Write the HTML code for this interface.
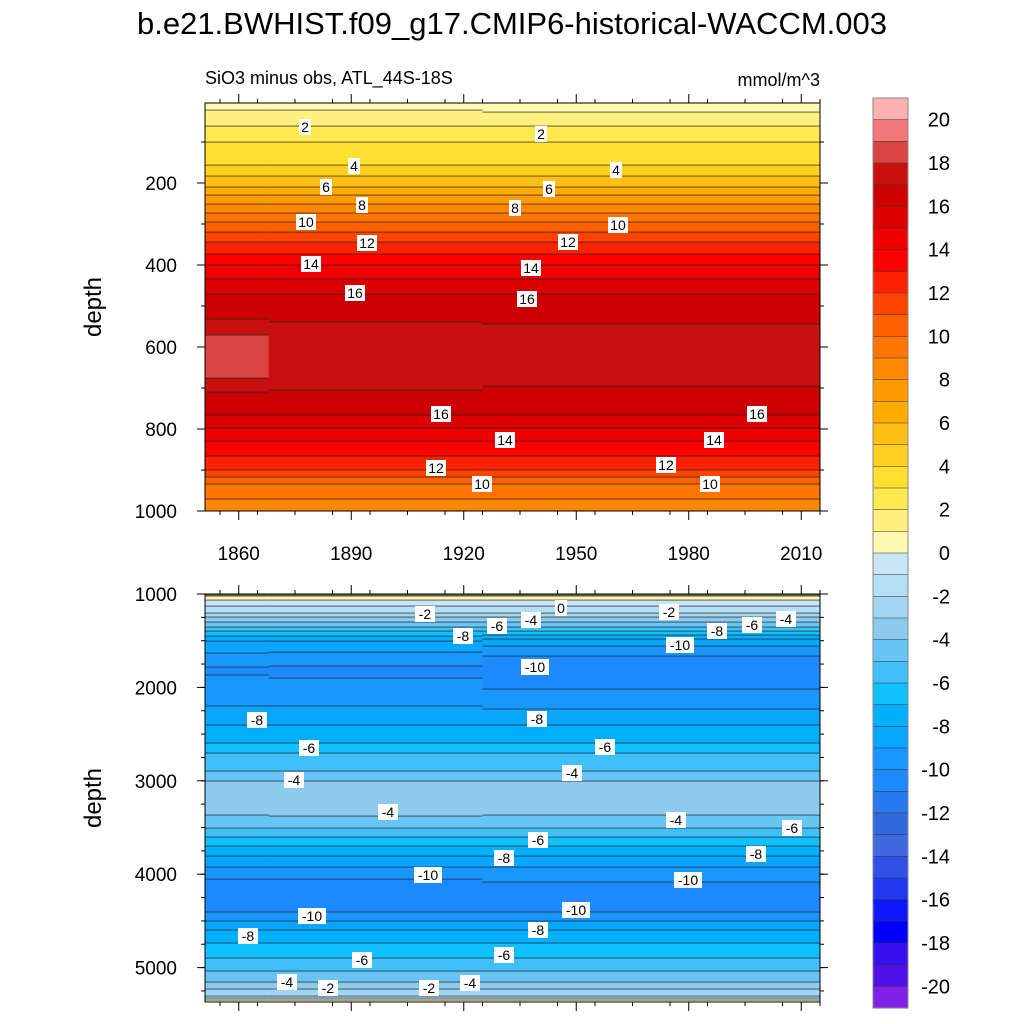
<!DOCTYPE html>
<html><head><meta charset="utf-8"><style>
body{margin:0;background:#fff;}
svg{display:block;font-family:"Liberation Sans",sans-serif;}
</style></head><body>
<svg id="chart" width="1024" height="1024">
<text x="512" y="34" font-size="31" text-anchor="middle">b.e21.BWHIST.f09_g17.CMIP6-historical-WACCM.003</text>
<text x="205" y="84" font-size="18">SiO3 minus obs, ATL_44S-18S</text>
<text x="820" y="86" font-size="18" text-anchor="end">mmol/m^3</text>
<text transform="translate(101,307) rotate(-90)" font-size="24" text-anchor="middle">depth</text>
<text transform="translate(101,798) rotate(-90)" font-size="24" text-anchor="middle">depth</text>
</svg>
<script>
// ---- data ----
const yearEdges = [1851, 1868, 1925, 2015];
const topDepths = [5, 30, 60, 100, 155, 210, 250, 295, 345, 400, 470, 545, 580, 620, 670, 700, 765, 830, 900, 935, 970, 1000];
const topProfileA = [0.5, 1.2, 2, 3, 4, 6, 8, 10, 12, 14, 16, 17.2, 18.3, 18.4, 18.2, 17.2, 16, 14, 12, 10, 9, 8.3];
const topProfileB = [0.6, 1.2, 2, 3, 4, 6, 8, 10, 12, 14, 16, 17.1, 17.5, 17.6, 17.4, 17.1, 16, 14, 12, 10, 9, 8.3];
const topProfileC = [0.4, 1.1, 2, 3, 4, 6, 8, 10, 12, 14, 16, 17.0, 17.4, 17.6, 17.4, 16.9, 16, 14, 12, 10, 9, 8.3];
const botDepths = [1000, 1030, 1100, 1200, 1300, 1400, 1500, 1700, 1800, 2000, 2200, 2400, 2600, 2700, 2900, 3000, 3150, 3300, 3400, 3500, 3600, 3800, 4000, 4100, 4200, 4300, 4400, 4600, 4800, 4900, 5100, 5200, 5300, 5365];
const botProfileA = [3, 0.5, -0.5, -2, -4, -6, -8, -9.5, -10.1, -9.8, -9, -8, -7, -6, -5, -4, -3.4, -3.6, -4.2, -5, -6, -8, -9.7, -10.3, -10.6, -10.2, -10, -8, -6.5, -6, -4.5, -3.5, -2, 0.5];
const botProfileB = [3, 0.5, -0.5, -2, -4, -6, -8, -9.6, -10.2, -9.8, -9, -8, -7, -6, -5, -4, -3.2, -3.4, -4.2, -5, -6, -8, -9.7, -10.3, -10.4, -10.2, -10, -8, -6.5, -6, -4.5, -3.5, -2, 0.5];
const botProfileC = [3, 0.5, -0.5, -2, -4, -6, -8.5, -10.3, -10.5, -10.1, -9.2, -8, -7, -6, -5, -4, -3.2, -3.6, -4.2, -5, -6, -8, -9.6, -10.1, -10.3, -10.1, -10, -8, -6.5, -6, -4.5, -3.5, -2, 0.5];
const xTickYears = [1860, 1890, 1920, 1950, 1980, 2010];
const topTickDepths = [200, 400, 600, 800, 1000];
const botTickDepths = [1000, 2000, 3000, 4000, 5000];
const cbLabels = [20, 18, 16, 14, 12, 10, 8, 6, 4, 2, 0, -2, -4, -6, -8, -10, -12, -14, -16, -18, -20];
const posColors = ['#fdb0b0','#f07878','#dc4444','#c81010','#cc0000','#dd0000','#ee0000','#ff0000','#ff2200','#ff4400','#ff6000','#ff7500','#ff8800','#ff9a00','#ffab00','#ffbf15','#ffd020','#ffe030','#ffe850','#fff080','#fff8b0'];
const negColors = ['#c8e6f5','#b4def4','#a2d6f0','#8ccaee','#68c4f4','#40c0f8','#10c0ff','#00b0ff','#08a6ff','#1898ff','#1e8aff','#2878f0','#3068e0','#4068e0','#3050e8','#2238f0','#1018ff','#0000ff','#3810f0','#5010e8','#8020e8'];
const topLabels = [[305,127,'2'],[541,134,'2'],[354,166,'4'],[616,170,'4'],[326,187,'6'],[549,189,'6'],[362,205,'8'],[515,208,'8'],[306,222,'10'],[618,225,'10'],[367,243,'12'],[568,242,'12'],[311,264,'14'],[531,268,'14'],[355,293,'16'],[527,299,'16'],[441,414,'16'],[757,414,'16'],[505,440,'14'],[714,440,'14'],[436,468,'12'],[666,465,'12'],[482,484,'10'],[710,484,'10']];
const botLabels = [[425,614,'-2'],[531,620,'-4'],[497,626,'-6'],[463,636,'-8'],[561,608,'0'],[669,612,'-2'],[717,631,'-8'],[752,625,'-6'],[786,619,'-4'],[680,645,'-10'],[535,667,'-10'],[257,720,'-8'],[537,719,'-8'],[309,748,'-6'],[605,747,'-6'],[294,780,'-4'],[572,773,'-4'],[388,812,'-4'],[676,820,'-4'],[792,828,'-6'],[538,840,'-6'],[504,858,'-8'],[756,854,'-8'],[428,875,'-10'],[688,880,'-10'],[312,916,'-10'],[576,910,'-10'],[538,930,'-8'],[248,936,'-8'],[362,960,'-6'],[504,955,'-6'],[287,982,'-4'],[328,988,'-2'],[429,988,'-2'],[470,983,'-4']];
// ---- geometry ----
const NS='http://www.w3.org/2000/svg';
const svg=document.getElementById('chart');
const X0=205,X1=820;
const xs=y=>X0+(y-1851)*(X1-X0)/(2015-1851);
const topY=d=>511-(1000-d)*0.41;
const botY=d=>594+(d-1000)*0.0934;
function mk(tag,attrs,parent){const e=document.createElementNS(NS,tag);for(const k in attrs)e.setAttribute(k,attrs[k]);(parent||svg).appendChild(e);return e;}
function colorFor(v){if(v>=0){let i=Math.floor(v);let idx=20-i;if(idx<0)idx=0;if(idx>20)idx=20;return posColors[idx];}let i=Math.floor(-v);if(i>20)i=20;return negColors[i];}
function interp(ds,vs,d){if(d<=ds[0])return vs[0];for(let i=1;i<ds.length;i++){if(d<=ds[i]){const t=(d-ds[i-1])/(ds[i]-ds[i-1]);return vs[i-1]+t*(vs[i]-vs[i-1]);}}return vs[vs.length-1];}
function drawPanel(name,ds,profiles,yfn,yTop,yBot){
  const g=mk('g',{});
  
  
  for(let b=0;b<profiles.length;b++){
    const xa=xs(yearEdges[b]),xb=xs(yearEdges[b+1]);
    let prevLev=null;
    for(let py=yTop;py<yBot;py++){
      let lo=ds[0],hi=ds[ds.length-1];
      for(let k=0;k<30;k++){const m=(lo+hi)/2;if(yfn(m)<py+0.5)lo=m;else hi=m;}
      const v=interp(ds,profiles[b],lo);
      const r=mk('rect',{x:xa,y:py,width:xb-xa+0.5,height:1.05,fill:colorFor(v)},g);
      
      
      const lev=Math.floor(v);
      if(prevLev!==null&&lev!==prevLev){
        const l=mk('rect',{x:xa,y:py-0.3,width:xb-xa+0.5,height:0.7,fill:'#222'},g);
        
        
      }
      prevLev=lev;
    }
  }
  const f=mk('rect',{x:X0,y:yTop,width:X1-X0,height:yBot-yTop,fill:'none',stroke:'#000','stroke-width':1});
  
  
}
drawPanel('top-panel',topDepths,[topProfileA,topProfileB,topProfileC],topY,103,511);
drawPanel('bottom-panel',botDepths,[botProfileA,botProfileB,botProfileC],botY,594,1002);
function label(x,y,t,name){
  const w=t.length*8+4;
  const r=mk('rect',{x:x-w/2,y:y-8,width:w,height:16,fill:'#fff'});
  
  
  const tx=mk('text',{x:x,y:y+5,'font-size':14,'text-anchor':'middle'});
  tx.textContent=t;
  
  
}
topLabels.forEach(l=>label(l[0],l[1],l[2],'contour-label'));
botLabels.forEach(l=>label(l[0],l[1],l[2],'contour-label'));
function tick(x1,y1,x2,y2){const l=mk('line',{x1,y1,x2,y2,stroke:'#000','stroke-width':1});}
topTickDepths.forEach(d=>{const y=topY(d);tick(X0-8,y,X0,y);tick(X1,y,X1+8,y);
  const t=mk('text',{x:X0-28,y:y+7,'font-size':19,'text-anchor':'end'});t.textContent=d;
  });
for(let d=100;d<=1000;d+=100){const y=topY(d);tick(X0-4,y,X0,y);tick(X1,y,X1+4,y);}
botTickDepths.forEach(d=>{const y=botY(d);tick(X0-8,y,X0,y);tick(X1,y,X1+8,y);
  const t=mk('text',{x:X0-28,y:y+7,'font-size':19,'text-anchor':'end'});t.textContent=d;
  });
for(let d=1000;d<=5300;d+=250){const y=botY(d);tick(X0-4,y,X0,y);tick(X1,y,X1+4,y);}
xTickYears.forEach(yr=>{const x=xs(yr);tick(x,511,x,520);tick(x,1002,x,1011);tick(x,585,x,594);tick(x,94,x,103);
  const t=mk('text',{x:x,y:560,'font-size':19,'text-anchor':'middle'});t.textContent=yr;
  });
for(let yr=1855;yr<=2015;yr+=10){const x=xs(yr);tick(x,511,x,515);tick(x,1002,x,1006);tick(x,590,x,594);tick(x,99,x,103);}
const CB0=98,CBH=910/42;
const allColors=posColors.concat(negColors);
allColors.forEach((c,i)=>{const r=mk('rect',{x:873,y:CB0+i*CBH,width:35,height:CBH+0.3,fill:c,stroke:'#333','stroke-width':0.5});
  });
const cbf=mk('rect',{x:873,y:CB0,width:35,height:910,fill:'none',stroke:'#888','stroke-width':1});

cbLabels.forEach((v,i)=>{const t=mk('text',{x:950,y:CB0+(i*2+1)*CBH+7,'font-size':20,'text-anchor':'end'});t.textContent=v;
  });
</script>
</body></html>
